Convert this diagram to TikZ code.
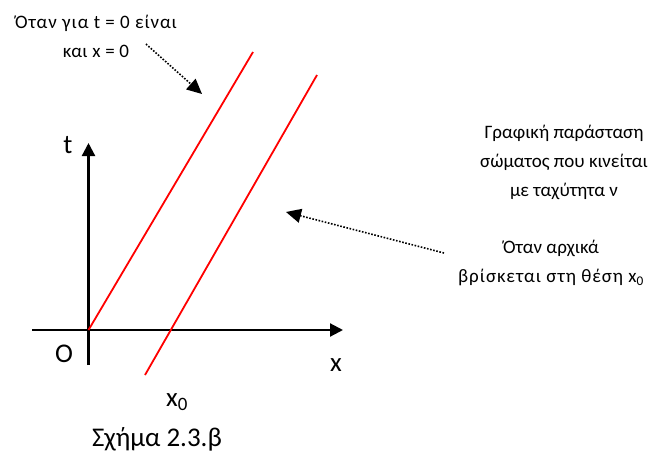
\documentclass[tikz,border=0pt]{standalone}
\usepackage{fontspec}
\setmainfont{Carlito}
\usetikzlibrary{arrows.meta}
\begin{document}
\begin{tikzpicture}[x=1pt,y=-1pt,
  axis/.style={line width=2.2pt,-{Triangle[length=13pt,width=13pt]}},
  redline/.style={red,line width=1.8pt},
  note/.style={font=\fontsize{19}{29}\selectfont,align=center,inner sep=0pt},
  lbl/.style={font=\fontsize{27}{30}\selectfont,inner sep=0pt},
  pointer/.style={dash pattern=on 1.6pt off 1.6pt,line width=1.6pt,-{Triangle[length=15pt,width=14pt]}}]
\useasboundingbox (0,0) rectangle (657,459);
% axes
\coordinate (o) at (88.5,330);
\coordinate (yb) at (88.5,365);
\coordinate (yt) at (88.5,143);
\coordinate (xl) at (32,330);
\coordinate (xr) at (343,330);
\draw[axis] (yb) -- (yt);
\draw[axis] (xl) -- (xr);
% red lines
\coordinate (l1t) at (253,52);
\coordinate (l2b) at (145,375);
\coordinate (l2t) at (317,75);
\draw[redline] (o) -- (l1t);
\draw[redline] (l2b) -- (l2t);
% labels
\node[lbl] (t) at (68,145) {t};
\node[lbl] (O) at (64,354) {O};
\node[lbl] (x) at (336,365) {x};
\node[lbl] (x0) at (177,402) {x\textsubscript{0}};
\node[font=\fontsize{27}{30}\selectfont,inner sep=0pt] (cap) at (157,439) {Σχήμα 2.3.β};
% notes
\node[note] (n1) at (96,36) {{\addfontfeature{LetterSpace=5}Όταν για t = 0 είναι}\\{\addfontfeature{LetterSpace=2}και x = 0}};
\node[note] (n2) at (564,162) {Γραφική παράσταση\\σώματος που κινείται\\με ταχύτητα ν};
\node[note] (n3) at (551,263) {Όταν αρχικά\\{\addfontfeature{LetterSpace=5}βρίσκεται στη θέση x\textsubscript{0}}};
% pointers
\coordinate (p1s) at (146,44);
\coordinate (p1e) at (202,94);
\coordinate (p2s) at (444,253);
\coordinate (p2e) at (286,212);
\draw[pointer] (p1s) -- (p1e);
\draw[pointer] (p2s) -- (p2e);
\end{tikzpicture}
\end{document}
